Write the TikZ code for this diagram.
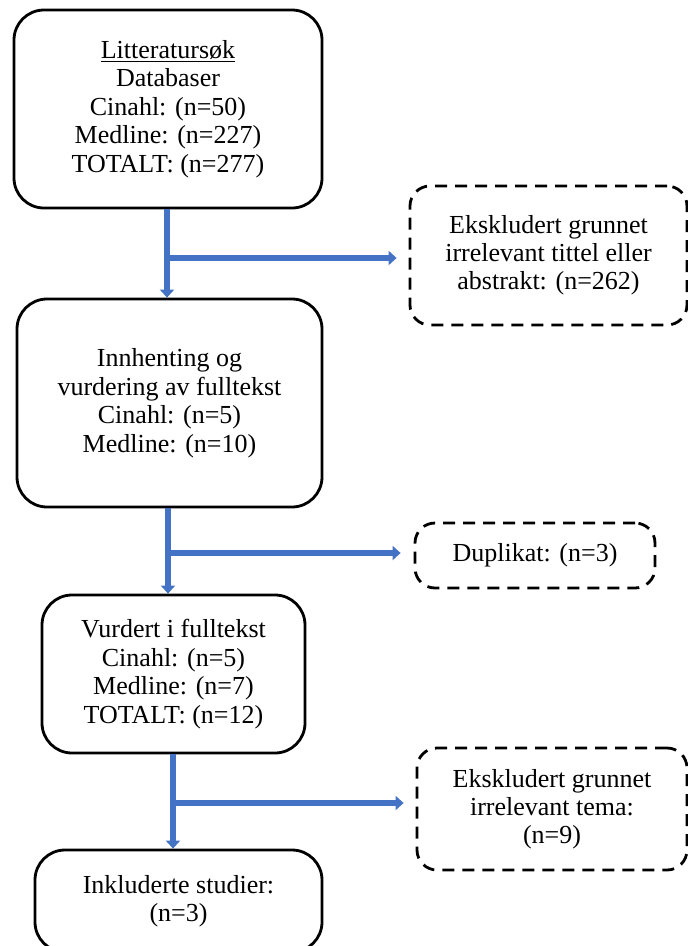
\documentclass[tikz,border=0pt]{standalone}
\usepackage{fontspec}
\setmainfont{Liberation Serif}
\usetikzlibrary{arrows.meta}
\definecolor{arrowblue}{HTML}{4472C4}
\begin{document}
\begin{tikzpicture}[x=1pt,y=-1pt,
  solidbox/.style={draw=black, line width=2.8pt, rounded corners=30pt, inner sep=0pt,
    align=center, font=\fontsize{26}{28.5}\selectfont},
  dashbox/.style={draw=black, line width=2.8pt, rounded corners=20pt, inner sep=0pt,
    dash pattern=on 12pt off 8pt, align=center, font=\fontsize{26}{28}\selectfont},
  flow/.style={draw=arrowblue, line width=6pt, -{Triangle[length=8pt,width=14pt]}}]
\useasboundingbox (0,0) rectangle (688,946);

\node[solidbox, minimum width=308pt, minimum height=198pt] (b1) at (168,109)
  {\underline{Litteratursøk}\\Databaser\\Cinahl: (n=50)\\Medline: (n=227)\\TOTALT: (n=277)};
\node[solidbox, minimum width=305pt, minimum height=208pt] (b2) at (169.5,403)
  {Innhenting og\\vurdering av fulltekst\\Cinahl: (n=5)\\Medline: (n=10)};
\node[solidbox, minimum width=263pt, minimum height=158pt] (b3) at (173.5,674)
  {Vurdert i fulltekst\\Cinahl: (n=5)\\Medline: (n=7)\\TOTALT: (n=12)};
\node[solidbox, minimum width=287pt, minimum height=102pt] (b4) at (178.5,901)
  {Inkluderte studier:\\(n=3)};

\node[dashbox, minimum width=277pt, minimum height=139pt] (d1) at (548.5,255.5)
  {Ekskludert grunnet\\irrelevant tittel eller\\abstrakt: (n=262)};
\node[dashbox, minimum width=240pt, minimum height=65pt] (d2) at (535,555.5)
  {Duplikat: (n=3)};
\node[dashbox, minimum width=270pt, minimum height=122pt] (d3) at (552,809)
  {Ekskludert grunnet\\irrelevant tema:\\(n=9)};

\coordinate (j1) at (167,258);
\coordinate (j2) at (168,553);
\coordinate (j3) at (173,803);

\draw[flow] (j1 |- b1.south) -- (j1 |- b2.north);
\draw[flow, shorten >=12pt] (j1) -- (j1 -| d1.west);
\draw[flow] (j2 |- b2.south) -- (j2 |- b3.north);
\draw[flow, shorten >=13pt] (j2) -- (j2 -| d2.west);
\draw[flow] (j3 |- b3.south) -- (j3 |- b4.north);
\draw[flow, shorten >=12pt] (j3) -- (j3 -| d3.west);
\end{tikzpicture}
\end{document}
